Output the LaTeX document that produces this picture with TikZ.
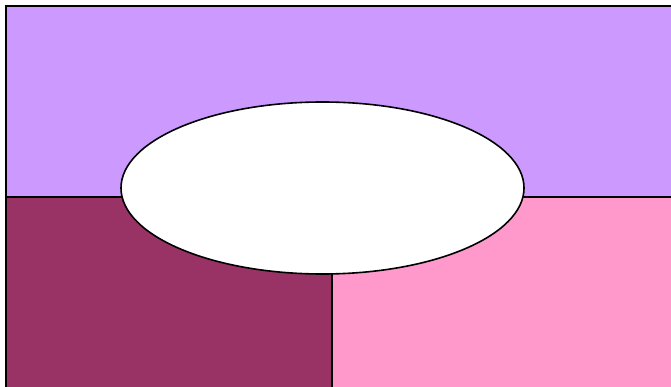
\documentclass[tikz,border=0pt]{standalone}
\usetikzlibrary{shapes.geometric}
\definecolor{lilac}{HTML}{CC99FF}
\definecolor{plum}{HTML}{993366}
\definecolor{rosepink}{HTML}{FF99CC}
\tikzset{
  edge/.style={line width=1.6pt, black},
  blob/.style={ellipse, draw, line width=1.6pt, fill=white, minimum width=403pt, minimum height=172pt, inner sep=0pt}
}
\begin{document}
\begin{tikzpicture}[x=1pt, y=-1pt]
  \useasboundingbox (0,0) rectangle (671,387);

  % Coloured areas
  \fill[lilac] (6,6) rectangle (675,197);
  \fill[plum] (6,197) rectangle (332,390);
  \fill[rosepink] (332,197) rectangle (675,390);

  % Borders
  \draw[edge] (6,390) -- (6,6) -- (675,6);
  \draw[edge] (6,197) -- (675,197);
  \draw[edge] (332,197) -- (332,390);

  % White ellipse in the middle
  \node[blob] (hole) at (322.5,188) {};

\end{tikzpicture}
\end{document}
